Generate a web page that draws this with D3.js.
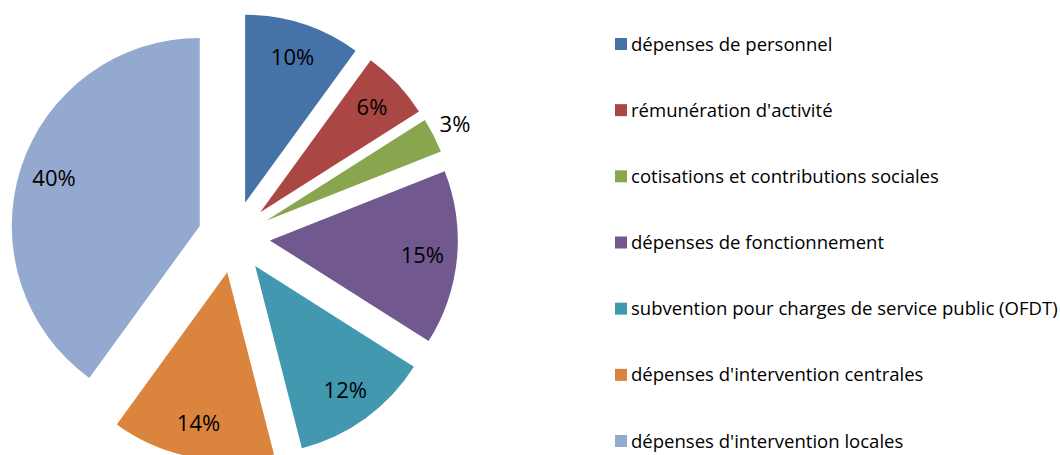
<!DOCTYPE html>
<html>
<head>
<meta charset="utf-8">
<script src="https://cdn.jsdelivr.net/npm/d3@7"></script>
<style>
  body { margin: 0; background: #fff; }
  svg { display: block; font-family: "Open Sans", sans-serif; }
</style>
</head>
<body>
<svg width="1060" height="455"></svg>
<script>
var categories = [
  "dépenses de personnel",
  "rémunération d'activité",
  "cotisations et contributions sociales",
  "dépenses de fonctionnement",
  "subvention pour charges de service public (OFDT)",
  "dépenses d'intervention centrales",
  "dépenses d'intervention locales"
];
var values = [10, 6, 3, 15, 12, 14, 40];
var colors = ["#4572A7", "#AA4643", "#89A54E", "#71588F", "#4198AF", "#DB843D", "#93A9CF"];

var svg = d3.select("svg"),
    cx = 234, cy = 237,
    radius = 188,
    explode = 36;

var pie = d3.pie().sort(null).value(function(d) { return d; });
var arc = d3.arc().innerRadius(0).outerRadius(radius);
var arcs = pie(values);

var total = d3.sum(values);
var pct = d3.format(".0%");

function offset(d, r) {
  var a = (d.startAngle + d.endAngle) / 2;
  return [Math.sin(a) * r, -Math.cos(a) * r];
}

var pieGroup = svg.append("g")
  .attr("transform", "translate(" + cx + "," + cy + ")");

var slice = pieGroup.selectAll("g.slice")
  .data(arcs)
  .enter().append("g")
  .attr("class", "slice")
  .attr("transform", function(d) {
    var o = offset(d, explode);
    return "translate(" + o[0] + "," + o[1] + ")";
  });

slice.append("path")
  .attr("d", arc)
  .attr("fill", function(d, i) { return colors[i]; });

// small slices get their label outside
slice.append("text")
  .attr("text-anchor", "middle")
  .attr("dy", "0.35em")
  .attr("font-size", 22)
  .attr("fill", "#000")
  .attr("transform", function(d) {
    var r = d.value < 5 ? radius + 24 : radius * 0.815;
    var o = offset(d, r);
    return "translate(" + o[0] + "," + o[1] + ")";
  })
  .text(function(d) { return pct(d.value / total); });

// legend
var legend = svg.append("g").attr("class", "legend");
var rowY = d3.scalePoint().domain(d3.range(categories.length)).range([44, 441]);

var row = legend.selectAll("g")
  .data(categories)
  .enter().append("g")
  .attr("transform", function(d, i) { return "translate(615," + rowY(i) + ")"; });

row.append("rect")
  .attr("x", 0).attr("y", -6)
  .attr("width", 12).attr("height", 12)
  .attr("fill", function(d, i) { return colors[i]; });

var labels = row.append("text")
  .attr("x", 16)
  .attr("dy", "0.35em")
  .attr("font-size", 18)
  .attr("fill", "#000")
  .text(function(d) { return d; });

// fit the longest label to the width seen in the reference
var longest = d3.max(labels.nodes(), function(n) { return n.getComputedTextLength(); });
var fs = 18 * 427 / longest;
labels.attr("font-size", fs);
</script>
</body>
</html>
